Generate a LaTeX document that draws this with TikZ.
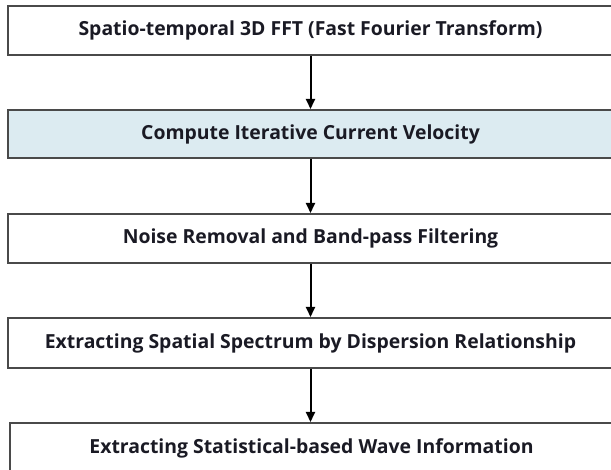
\documentclass[tikz,border=0pt]{standalone}
\usepackage{fontspec}
\setmainfont{Open Sans}
\usetikzlibrary{arrows.meta}
\definecolor{boxline}{HTML}{4A4A4A}
\definecolor{boxfill}{HTML}{DCEBF1}
\definecolor{steptext}{HTML}{1A1A24}
\tikzset{
  stepbox/.style={draw=boxline, line width=2pt, minimum width=605pt, anchor=north west,
    inner sep=0pt, font=\fontsize{19.4}{22}\selectfont\bfseries, text=steptext},
  flow/.style={draw=black, line width=2pt, -{Triangle[length=10pt,width=9pt]}}
}
\begin{document}
\begin{tikzpicture}[x=1pt,y=-1pt]
  \useasboundingbox (0,0) rectangle (611,470);
  \node[stepbox, minimum height=49pt] (s1) at (7,5) {Spatio-temporal 3D FFT (Fast Fourier Transform)};
  \node[stepbox, minimum height=48pt, fill=boxfill] (s2) at (7,109) {Compute Iterative Current Velocity};
  \node[stepbox, minimum height=49pt] (s3) at (7,213) {Noise Removal and Band-pass Filtering};
  \node[stepbox, minimum height=50pt] (s4) at (7,317) {Extracting Spatial Spectrum by Dispersion Relationship};
  \node[stepbox, minimum height=50pt, minimum width=603pt] (s5) at (9,422) {Extracting Statistical-based Wave Information};
  \draw[flow] (s1.south) -- (s2.north);
  \draw[flow] (s2.south) -- (s3.north);
  \draw[flow] (s3.south) -- (s4.north);
  \draw[flow] (s4.south) -- (s4.south |- s5.north);
\end{tikzpicture}
\end{document}
